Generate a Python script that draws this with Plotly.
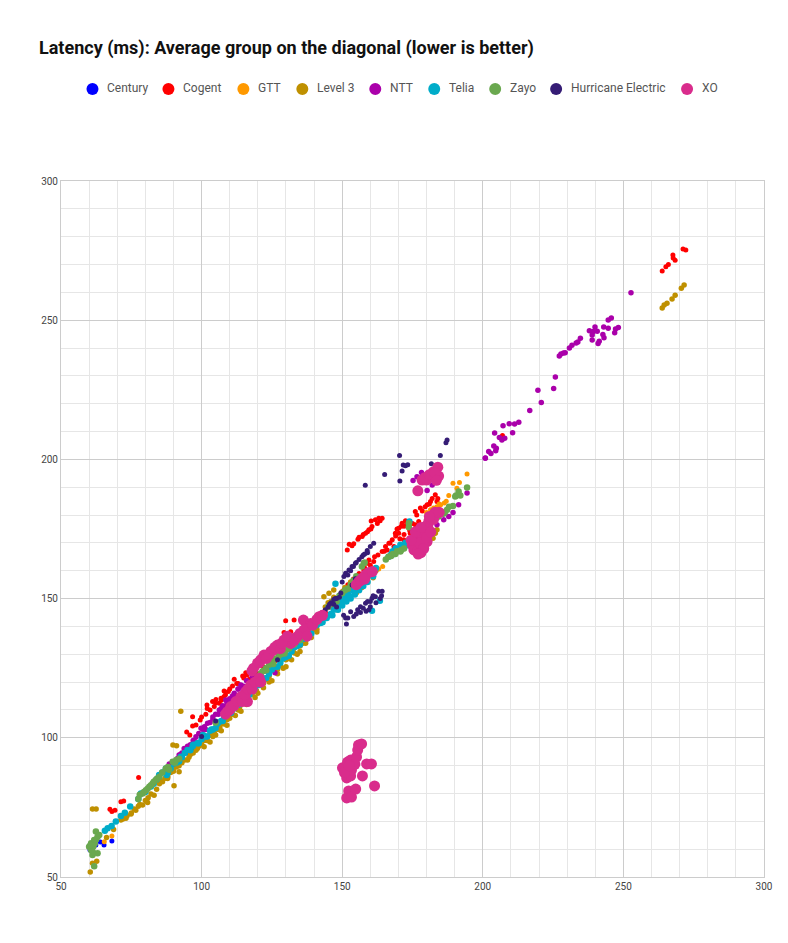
import plotly.graph_objects as go

# --- Data, one x and one y list per carrier ---
century_x = [60.3, 61, 62.4, 64, 65.3, 68.1, 95, 97, 99, 103, 110, 118, 127, 131]
century_y = [59.7, 60, 61.5, 62.6, 61.5, 62.9, 94.5, 96, 98, 101.5, 108, 116, 125, 128.5]

cogent_x = [67.4, 68.1, 69.2, 71.3, 72.3, 77.6, 94.7, 95.8, 96.8, 96.8, 98, 99.5, 101.5, 101.9, 103.9, 104.5, 105.1, 106.3, 106.9,
            108, 108, 109.5, 111, 111.6, 114.6, 115.7, 116.1, 119, 122, 125, 129.3, 129.9, 131.7, 132.9, 136, 139, 142, 146,
            150.6, 151.8, 153, 154.1, 155.3, 155.6, 157.1, 157.7, 158.3, 158.9, 159.5, 159.5, 160.3, 160.6, 161.2, 161.8, 163, 164.2,
            162.7, 164.2, 165.4, 166, 166.6, 167.8, 168.4, 168.9, 170.1, 170.1, 171.3, 171.9, 172.5, 174.2, 176, 177.2, 177.8, 180.2,
            181.4, 183.1, 183.7, 207, 263.8, 265.1, 266, 267.6, 267.7, 268.4, 271.2, 272.2,
            100, 102, 103, 105, 107, 108.5, 110, 112.5, 113, 115, 117, 118, 120, 124, 126, 128, 130, 133, 135, 138, 140, 144, 148, 149,
            152, 154, 156, 158, 160, 161.5, 152.5, 153.5, 156, 157.5, 159, 160.2, 162.5, 163.5, 165, 167, 169, 169.5, 171, 172, 173, 175,
            176.5, 178.5, 179.5, 181, 182, 184, 170.5, 172, 174, 176]
cogent_y = [74.3, 73.5, 74, 77, 77.3, 85.7, 102.1, 101, 107.6, 104.2, 104.6, 106.4, 108.5, 111.8, 113, 111.2, 113.8, 112.4, 114.2,
            116.8, 114.8, 116.6, 118.6, 121, 122.2, 123.4, 122.6, 122.5, 125.5, 128.5, 137.8, 142, 138.1, 142.3, 137.5, 141, 143, 147,
            153.1, 167.5, 154.3, 169.7, 156.7, 171.3, 172.3, 160.3, 173.5, 162.7, 163.9, 174.7, 177.9, 175.9, 163.3, 178.3, 178.9, 178.9,
            165.7, 166.9, 168.7, 167.5, 169.9, 171.1, 168.7, 173.5, 175.3, 173.5, 177.1, 171.1, 178, 173.5, 181.3, 177.7, 182.5, 183.7,
            184.9, 187.3, 184.9, 208.6, 267.7, 269.2, 270, 273.4, 272.3, 271.5, 275.6, 275.2,
            107.5, 110.5, 110, 112.5, 113.5, 115.5, 117.5, 119.5, 119.5, 121.5, 121, 123.5, 123, 126, 127.5, 130, 132, 135, 136, 139, 141, 145, 150, 151,
            155, 157, 159, 161, 162, 165, 169.5, 169, 172, 173, 174, 175, 177, 178, 167, 170, 172.5, 175, 176, 176, 177, 177,
            180, 181.5, 183, 184, 186, 186, 171.5, 173, 174.5, 176.5]

gtt_x = [65.4, 68.1, 90, 105, 118, 135, 150, 158, 163, 164.4, 180, 181.4, 183.7, 185, 186.3, 187.9, 189.4, 190.8, 191.7, 194.4, 182.5, 184.5, 187]
gtt_y = [62.7, 64.7, 89, 104, 117, 134, 151, 159, 160.6, 161.5, 180.9, 181.9, 183, 183.7, 184.3, 187, 191.4, 189.6, 191.7, 194.8, 182.5, 184, 185]

level3_x = [60.4, 61.2, 62.7, 61.2, 62.5, 66.2, 68.7, 71.3, 73.1, 74.9, 76.6, 79, 80.8, 83.1, 86.1, 87.9, 89.8, 90.2, 91.1, 92, 92.6, 95, 98.5,
            100.9, 102, 103, 104, 105, 106, 107, 108, 109, 110, 112, 113, 114, 116, 117, 119, 120, 122, 124, 125, 127, 129, 130, 132, 134, 135, 137, 139,
            141, 143.5, 145.3, 147, 148, 149, 151, 153, 155, 157, 159, 161, 162, 182.3, 183.1, 183.7, 263.8, 264.5, 265.5, 267.3, 268.4, 270.6, 271.6,
            72, 73.5, 75, 76, 77.5, 78, 80, 81, 82, 84, 85, 86, 87, 88, 89, 90, 91, 92, 93, 94, 95.5, 96, 97, 98, 99, 100, 101, 101.5,
            103, 104.5, 105.5, 106.5, 107.5, 109, 110, 111, 112.5, 113.5, 115, 116, 117.5, 118, 119.5, 121, 122, 123, 124, 126, 127, 128,
            130, 131, 132.5, 133, 135, 136, 137.5, 138, 140, 141, 142, 143, 144, 145, 146, 147, 149, 150, 152, 154, 156, 158]
level3_y = [51.8, 54.9, 55.7, 74.4, 74.4, 64.2, 67.1, 70.5, 71.1, 72.6, 74, 75.9, 76.8, 79.4, 84.2, 85.4, 97.4, 82.8, 97.1, 87.8, 109.5, 92, 96.2,
            96.8, 99, 98.5, 100.5, 101, 103, 102.5, 105, 104.5, 107, 108, 110, 109.5, 112, 113, 114.5, 116, 118, 120, 120.5, 123, 125, 125.5, 128, 130, 131, 134, 136,
            138, 150.7, 151.9, 153.1, 146, 147.5, 154, 156, 152, 154, 156, 157.5, 160, 171.7, 173.5, 174.7, 254.4, 255.5, 256.1, 257.6, 259, 261.5, 262.6,
            70.8, 72, 73, 74.4, 75.4, 76, 77.5, 78.5, 79.8, 81.5, 83.5, 84.5, 85.5, 86, 87.5, 88, 89.5, 90, 91, 92, 93, 94, 94.5, 95.5, 97, 97.5, 99, 99.5,
            101, 102, 103.5, 104, 105.5, 106.5, 108, 108.5, 110.5, 111, 113, 113.5, 115.5, 116, 117, 119, 119.5, 121, 122, 124, 124.5, 126,
            128, 128.5, 131, 130.5, 133, 134, 135.5, 136.5, 139, 139, 143, 145, 147, 148.5, 149, 150.5, 150, 152.5, 153, 155, 157, 159]

ntt_x = [88.5, 91.4, 93.8, 97.9, 98, 99.8, 101, 102.1, 104, 106.3, 107.5, 108.6, 110, 111.6, 113, 114, 116, 118, 121, 124, 126.1, 128,
         175.2, 176.6, 178.2, 180.2, 181.4, 182, 183.7, 184.3, 186.1, 187.9, 189.4, 191.4, 194.4, 200.9,
         200.9, 202.1, 202.9, 203.9, 204.8, 204.6, 204.2, 205.9, 206.8, 207.8, 207.2, 209.4, 211.3, 212.8, 210.6, 216.7, 220.8, 219.6, 225.2, 225.8,
         227.2, 227.8, 228.7, 229.3, 230.8, 231.7, 233.2, 233.8, 234.7, 237.9, 239.3, 238.9, 240.7, 239.9, 238.9, 243, 242.7, 243.1, 244.6, 244.6, 245.7,
         241.4, 241, 246.9, 247.2, 248.2, 252.7,
         89.5, 90.5, 92, 93, 95, 96, 97, 99, 100.5, 101.5, 103, 104, 105, 106, 107, 108, 109, 110, 111, 112, 113, 115, 92.5, 94.5, 110.5, 114.5, 122.5]
ntt_y = [90.6, 92.6, 96.2, 98.6, 100.4, 103.4, 104, 105.2, 107.5, 110, 111.5, 113.6, 114, 116, 117.5, 119, 120.5, 122, 123, 125.5, 123.4, 128,
         192.4, 193.8, 195.3, 188.8, 173.7, 190.8, 176.5, 192.6, 178.3, 179.5, 180.9, 183.7, 187.9, 200.4,
         200.5, 202.8, 202.1, 204.8, 204, 203.1, 209.5, 207.9, 207, 207.6, 212.1, 212.8, 212.7, 213.3, 209.6, 217.6, 220.4, 224.8, 225.5, 229.6,
         237.1, 237.9, 238.2, 238.3, 240, 241, 241.8, 242.2, 243.5, 246.2, 245.9, 244.7, 246, 247.6, 242.9, 247.6, 244.9, 243.7, 247.1, 250.1, 250.8,
         242.4, 241.6, 245.5, 246.8, 247.4, 259.9,
         90.5, 91, 93.8, 94.5, 97, 97.5, 99, 101.5, 103, 103, 105.5, 106.5, 108.5, 108.5, 110.5, 111, 112.5, 113, 115, 115, 117.5, 118.5, 94, 96, 113.5, 118, 124]

telia_x = [65.6, 66.6, 68, 69.5, 71.3, 72.7, 74.6, 77.5, 78.4, 84.9, 86, 87.3, 87.6, 90.2, 92.6, 95, 96.8, 98.5,
           100, 101.5, 103, 104, 105.5, 107, 108, 110, 111.5, 113, 114, 116, 117, 119, 120, 122, 124, 126, 128, 130, 132, 134, 136, 138, 140,
           142.3, 144, 145.9, 147, 148.2, 149, 150.6, 152, 153.5, 155, 156, 147.6, 160.6, 163.4, 169, 170.7, 172.5, 174, 173.9,
           80, 82, 83, 84, 88, 89, 91, 92, 93, 94, 96, 97, 99, 100.5, 102, 103.5, 105, 106, 107.5, 109, 110.5, 112, 113.5, 115, 117, 118.5,
           120.5, 121.5, 123, 125, 127, 129, 131, 133, 135, 137, 139, 141, 143, 144.5, 146, 147.5, 149.5, 151, 152.5, 154, 155.5, 158, 160, 162,
           168, 168.5, 171, 173, 175,
           146.5, 148.5, 150, 151.5, 153, 154.5, 156, 157.5, 159, 161, 166.5, 167.5, 169.5, 171.5, 172.5, 174.5]
telia_y = [66.6, 67.5, 68.3, 69.9, 71.9, 73.1, 75.3, 78, 80, 86.6, 87.5, 89, 86.6, 90.8, 93.2, 95.6, 97, 98,
           99.5, 100.5, 102.5, 103, 105, 106, 107.5, 109, 110.5, 112, 113.5, 115, 116.5, 118, 120, 121, 123, 125.5, 127, 129, 131, 133, 135.5, 138, 140,
           141.2, 143, 144.1, 146, 147.1, 149, 149.5, 151.5, 153.1, 155, 156, 155.3, 145.6, 149.2, 168.1, 169.3, 170.1, 171.1, 177.7,
           80.5, 82.5, 83.5, 85, 87.5, 89, 91, 91.5, 93, 94.5, 95.5, 97.5, 98, 101, 100.5, 103, 103.5, 105.5, 106, 108.5, 109, 111.5, 112, 114.5, 115.5, 118,
           119, 121.5, 121.5, 124.5, 125.5, 128.5, 129.5, 132.5, 133.5, 136.5, 137.5, 140.5, 141.5, 143, 144.5, 146.5, 148, 150.5, 151, 153, 154, 157, 159, 161,
           167, 166, 168, 170, 171,
           144, 146, 147.5, 149, 150, 151.5, 153, 154.5, 156, 158, 165, 166, 167, 168.5, 169, 170.5]

zayo_x = [60, 60.7, 60.7, 61.2, 61.8, 61.8, 62.4, 63, 63, 63.6, 79, 80.2, 81.4, 82.6, 83.7, 87.3, 89.7, 105, 112,
          121.6, 122.8, 124, 125.2, 126.4, 127.6, 128.8, 130, 131.1, 141, 145, 149, 154, 157, 157.7,
          167.4, 168.9, 170.7, 173.7, 173.7, 184.3, 186, 187.3, 189.4, 190.2, 191.4, 194.4,
          61, 61.5, 62, 62.5, 60.5, 61.3, 77.5, 78, 79.5, 80.8, 82, 83, 84.2, 85, 86, 88, 88.5, 90.5, 91, 92,
          120, 121, 122, 123, 124.5, 125.5, 127, 128.2, 129.5, 130.5, 131.5, 133, 135, 137,
          146, 147, 148, 150, 151, 152, 153, 155, 156, 158, 165.5, 166.5, 168, 169.5, 171, 172, 175, 176, 186.5, 188, 190.5, 192]
zayo_y = [60.9, 59.7, 62.1, 57.9, 63.3, 53.9, 66.3, 64.5, 58.5, 65.1, 80, 81.2, 82.4, 83.6, 84.8, 89, 91.4, 105.5, 112.5,
          123.8, 125, 126.2, 127.3, 128.5, 129.7, 130.9, 131.5, 132.1, 141.5, 147, 151, 156.5, 161.5, 162.7,
          165.3, 166, 166.9, 175.6, 177.1, 179.5, 180.5, 181.9, 183.3, 186.7, 188.5, 189.9,
          60.3, 61, 62, 63.5, 61.5, 59, 78, 79.5, 80.5, 81.7, 83, 84.2, 85.4, 86, 87.5, 89.5, 88.5, 91, 92, 92.5,
          122, 123, 124, 124.3, 127, 126.5, 128.5, 130, 130.3, 133, 133, 133.5, 135, 137,
          148, 149, 149, 152, 153, 153.5, 155, 158, 157, 163, 164, 165, 166, 167, 167.5, 168, 170, 171, 181, 183, 187, 187]

he_x = [100, 105, 112, 127, 139, 143, 147, 148, 150.6, 151.2, 151.2, 151.5, 152.4, 153, 153.5, 153.5, 154.1, 154.7, 154.7, 155.5, 156.5, 157.5, 157.5, 158.3, 158.9,
        159, 160, 160, 160.6, 161.2, 161.8, 163, 164.2, 165.1, 158.2, 170.4, 170.5, 171.3, 171.7, 172.5, 173.3, 177, 181.7, 184.9, 186.9, 187.3,
        144, 145, 146, 147, 148, 149, 149.5, 150, 152, 153, 154, 155, 156, 157, 158, 159, 160, 161, 162, 163.5, 164, 155, 156.5, 158.5, 159.5, 150.5, 152, 145.5, 147.5]
he_y = [100.5, 106, 113, 128, 140, 145, 149.7, 147, 157.9, 159.1, 143, 140.9, 160.3, 145.3, 161.5, 154.9, 143.6, 162.7, 157.1, 146, 147.1, 165.7, 146.5, 148.3, 167.3,
        149, 168.7, 147.1, 150.1, 169.9, 150.7, 152.6, 152.6, 194.6, 190.7, 201.4, 192.2, 195.8, 198, 197.7, 198.1, 166, 198.4, 201.4, 206, 207,
        146, 147, 148.5, 148, 150, 150.5, 152, 156, 158.5, 160, 161.5, 163, 164, 165, 166, 166.5, 149, 151, 148.5, 150, 151, 144.5, 145, 145.5, 146, 144, 143, 148, 150]

xo_x = [109.2, 110.4, 112.2, 114, 115.7, 116.3, 117.5, 117.9, 119.9, 120.5, 122.2, 124.6, 127, 129.3, 131.7, 131.7, 134, 136.2, 136.4, 138.8, 141.8,
        150.1, 151.2, 151.6, 151.6, 151.9, 152.3, 152.3, 153, 153, 153.3, 153.3, 154.8, 155.1, 155.5, 155.8, 156.9, 157.2, 158.7, 160.4, 161.5,
        155.9, 157.1, 158.3, 159.5, 160.7,
        174.9, 176, 176.6, 177.2, 178.4, 179, 180, 180.2, 179.6, 180.8, 182, 183.7,
        176.9, 178.4, 180, 181.4, 182.5, 184, 184.3,
        108.5, 110, 111.5, 113, 114.5, 115.5, 116.5, 118, 119, 121, 118.5, 120.5, 121, 123, 124, 125.5, 126, 128, 130, 128.5, 130.5, 133, 135, 137, 137.5, 139.5, 141, 143,
        175.5, 176.5, 177.5, 178, 179, 179.5, 175.5, 177, 178.5, 176, 177.5, 180.5, 181.5, 182.5, 183, 184.5, 181, 177.5, 178, 155, 156.5, 158,
        153.5, 154.5, 150.8, 152.5, 179.5, 181, 183, 183.5,
        174.5, 176, 178, 180, 181.5, 179, 177]
xo_y = [109.4, 111.2, 113, 114.8, 116.6, 113, 119, 124, 126.8, 121.4, 129.7, 131, 133.3, 135.1, 135.7, 133.9, 136.3, 142.3, 138.7, 141.1, 143.5,
        89.2, 89.2, 85.6, 78.4, 91.3, 87.4, 80.9, 92, 86.3, 88.4, 78.7, 81.6, 93.1, 95.6, 97.4, 97.8, 86.3, 90.6, 90.6, 82.7,
        156.1, 157.3, 158.5, 159.4, 159.7,
        169.3, 170.5, 168.1, 171.7, 169.3, 172.3, 174.1, 170.5, 175.9, 177.7, 179.5, 180.7,
        188.7, 192.6, 192.6, 193.8, 195.6, 197.2, 194,
        108.5, 110, 111.5, 113, 113, 115.5, 117.5, 117.5, 120, 120, 125, 127, 128, 128.5, 130, 131.5, 132.5, 132, 134.5, 134, 136.5, 135, 137.5, 139, 136.5, 140.5, 142.5, 144,
        170.5, 171, 172.5, 170.5, 173.5, 170.5, 167.5, 167.5, 168, 172, 173.5, 176.5, 178.5, 178.5, 181, 181, 179.5, 170, 166.5, 155, 156.5, 157,
        90, 90.5, 87.5, 90, 193.5, 194.5, 195, 192.5,
        171, 174, 175.5, 172, 174, 168, 166]

names = ["Century", "Cogent", "GTT", "Level 3", "NTT", "Telia", "Zayo", "Hurricane Electric", "XO"]
colors = ["#0000ff", "#ff0000", "#ff9900", "#bf9000", "#aa00aa", "#00acc9", "#6aa84f", "#351c75", "#d92c8c"]
xs = [century_x, cogent_x, gtt_x, level3_x, ntt_x, telia_x, zayo_x, he_x, xo_x]
ys = [century_y, cogent_y, gtt_y, level3_y, ntt_y, telia_y, zayo_y, he_y, xo_y]
sizes = [5, 5, 5, 5.5, 5.5, 6.5, 6.5, 5, 11]

ticks = [50, 100, 150, 200, 250, 300]

# page body has an 8px margin, so everything is shifted by that
PAGE = 8
PLOT_L, PLOT_R, PLOT_T, PLOT_B = 60.5, 764, 181, 877

fig = go.Figure()
for name, color, x, y, size in zip(names, colors, xs, ys, sizes):
    fig.add_trace(go.Scatter(x=x, y=y, mode="markers", name=name, marker=dict(color=color, size=size, line_width=0)))

axis_style = dict(
    range=[50, 300],
    tickvals=ticks,
    ticks="",
    tickfont=dict(family="Roboto", size=10, color="#444444"),
    showgrid=True,
    gridcolor="#cccccc",
    gridwidth=1,
    showline=True,
    linecolor="#cccccc",
    mirror=True,
    zeroline=False,
    minor=dict(dtick=10, showgrid=True, gridcolor="#e6e6e6", gridwidth=1, ticks=""),
)
fig.update_xaxes(**axis_style)
fig.update_yaxes(**axis_style)

# legend row: Google-chart spacing is tighter than Plotly's own legend allows
legend_dot_px = [92, 168, 243, 302, 375, 434, 495, 556, 687]
legend_y_px = 89
shapes = []
annotations = []
width_px = PLOT_R - PLOT_L
height_px = PLOT_B - PLOT_T
for name, color, dot in zip(names, colors, legend_dot_px):
    shapes.append(dict(type="circle", xref="paper", yref="paper",
                       x0=(dot - 6 - PLOT_L) / width_px, x1=(dot + 6 - PLOT_L) / width_px,
                       y0=(PLOT_B - legend_y_px - 6) / height_px, y1=(PLOT_B - legend_y_px + 6) / height_px,
                       fillcolor=color, line_width=0))
    annotations.append(dict(text=name, xref="paper", yref="paper", showarrow=False,
                            x=(dot + 12.5 - PLOT_L) / width_px, y=(PLOT_B - legend_y_px + 1) / height_px,
                            xanchor="left", yanchor="middle",
                            font=dict(family="Roboto", size=12, color="#555555")))

fig.update_layout(
    width=788 - PAGE,
    height=943 - PAGE,
    margin=dict(l=PLOT_L - PAGE, r=788 - PLOT_R, t=PLOT_T - PAGE, b=943 - PLOT_B, pad=0),
    title=dict(text="<b>Latency (ms): Average group on the diagonal (lower is better)</b>",
               font=dict(family="Roboto", size=18, color="#111111"),
               x=(39 - PAGE) / (788 - PAGE), xanchor="left", y=1 - (48 - PAGE) / (943 - PAGE), yanchor="middle"),
    paper_bgcolor="white",
    plot_bgcolor="white",
    showlegend=False,
    shapes=shapes,
    annotations=annotations,
)

fig.write_html("out.html")
